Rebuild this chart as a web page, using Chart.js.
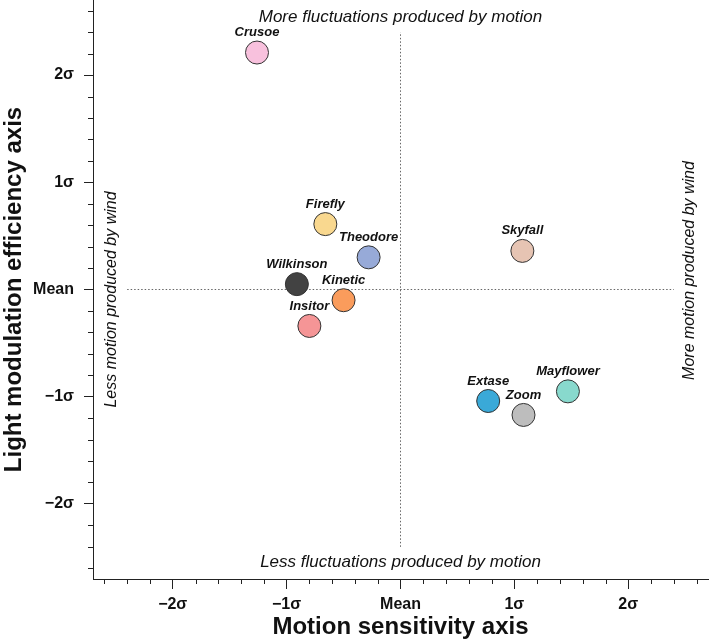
<!DOCTYPE html>
<html>
<head>
<meta charset="utf-8">
<script src="https://cdn.jsdelivr.net/npm/chart.js@4/dist/chart.umd.min.js"></script>
<style>
  html, body { margin: 0; padding: 0; background: #fff; }
  #chart { display: block; }
</style>
</head>
<body>
<canvas id="chart" width="709" height="642"></canvas>
<script>
// products placed on the two standardized axes (in sigma units)
var products = ['Crusoe', 'Firefly', 'Theodore', 'Wilkinson', 'Kinetic', 'Insitor', 'Skyfall', 'Extase', 'Zoom', 'Mayflower'];
var motionSensitivity = [-1.26, -0.66, -0.28, -0.91, -0.50, -0.80, 1.07, 0.77, 1.08, 1.47];
var lightModulation = [2.21, 0.61, 0.30, 0.05, -0.10, -0.34, 0.36, -1.04, -1.17, -0.95];
var pointColors = ['#f8c1dd', '#f9d88f', '#97aad8', '#424242', '#fa9c5c', '#f59596', '#e6c4b3', '#3aa9d8', '#bdbdbd', '#88d9cd'];

var meanLineSpan = [-2.4, 2.4];
var quadrantText = {
  top: 'More fluctuations produced by motion',
  bottom: 'Less fluctuations produced by motion',
  left: 'Less motion produced by wind',
  right: 'More motion produced by wind'
};

var FONT = '"Liberation Sans", Arial, Helvetica, sans-serif';

function sigmaLabel(v) {
  if (v === 0) return 'Mean';
  return (v < 0 ? '\u2212' + (-v) : v) + '\u03c3';
}

// ====minor ticks every 0.2 sigma====
var minorTicks = {
  id: 'minorTicks',
  afterDraw: function(chart) {
    var ctx = chart.ctx, a = chart.chartArea;
    var xs = chart.scales.x, ys = chart.scales.y;
    ctx.save();
    ctx.strokeStyle = '#222';
    ctx.lineWidth = 1;
    ctx.beginPath();
    for (var i = -13; i <= 13; i++) {
      if (i % 5 === 0) continue;
      var px = Math.round(xs.getPixelForValue(i / 5)) + 0.5;
      ctx.moveTo(px, a.bottom);
      ctx.lineTo(px, a.bottom + 5);
      var py = Math.round(ys.getPixelForValue(i / 5)) + 0.5;
      ctx.moveTo(a.left, py);
      ctx.lineTo(a.left - 5, py);
    }
    ctx.stroke();
    ctx.restore();
  }
};

// ====names above each circle + quadrant captions====
var annotations = {
  id: 'annotations',
  afterDatasetsDraw: function(chart) {
    var ctx = chart.ctx, a = chart.chartArea;
    var xs = chart.scales.x, ys = chart.scales.y;
    ctx.save();
    ctx.fillStyle = '#111';
    ctx.textAlign = 'center';
    ctx.textBaseline = 'middle';

    ctx.font = 'italic bold 13px ' + FONT;
    chart.getDatasetMeta(0).data.forEach(function(el, i) {
      ctx.fillText(products[i], el.x, el.y - 20);
    });

    ctx.font = 'italic 17px ' + FONT;
    var cx = xs.getPixelForValue(0), cy = ys.getPixelForValue(0);
    ctx.fillText(quadrantText.top, cx, a.top + 17);
    ctx.fillText(quadrantText.bottom, cx, a.bottom - 17);

    ctx.font = 'italic 16px ' + FONT;
    ctx.save();
    ctx.translate(a.left + 19, cy + 10);
    ctx.rotate(-Math.PI / 2);
    ctx.fillText(quadrantText.left, 0, 0);
    ctx.restore();

    ctx.translate(a.right - 18, cy - 19);
    ctx.rotate(-Math.PI / 2);
    ctx.fillText(quadrantText.right, 0, 0);
    ctx.restore();
  }
};

var axisCommon = {
  type: 'linear',
  grid: { drawOnChartArea: false, drawTicks: true, tickLength: 10, tickColor: '#222', tickWidth: 1 },
  border: { display: true, color: '#222', width: 1 },
  ticks: {
    stepSize: 1,
    includeBounds: false,
    color: '#111',
    font: { family: FONT, size: 16, weight: 'bold' },
    callback: function(v) { return Number.isInteger(v) ? sigmaLabel(v) : ''; }
  }
};

var ctx = document.getElementById('chart').getContext('2d');

var mapChart = new Chart(ctx, {
  type: 'scatter',
  data: {
    datasets: [
      {
        label: 'products',
        data: products.map(function(p, i) { return { x: motionSensitivity[i], y: lightModulation[i] }; }),
        backgroundColor: pointColors,
        borderColor: '#333',
        borderWidth: 1,
        pointRadius: 11.5,
        pointHoverRadius: 11.5
      },
      {
        type: 'line',
        label: 'mean x',
        data: meanLineSpan.map(function(v) { return { x: v, y: 0 }; }),
        borderColor: '#666',
        borderWidth: 1,
        borderDash: [1.5, 2],
        pointRadius: 0,
        showLine: true
      },
      {
        type: 'line',
        label: 'mean y',
        data: meanLineSpan.map(function(v) { return { x: 0, y: v }; }),
        borderColor: '#666',
        borderWidth: 1,
        borderDash: [1.5, 2],
        pointRadius: 0,
        showLine: true
      }
    ]
  },
  options: {
    responsive: false,
    animation: false,
    layout: { autoPadding: false, padding: { left: 0, right: 1, top: 0, bottom: 0 } },
    plugins: { legend: { display: false }, tooltip: { enabled: false } },
    scales: {
      x: Object.assign({}, axisCommon, {
        position: 'bottom',
        min: -2.7,
        max: 2.7,
        ticks: Object.assign({}, axisCommon.ticks, { padding: 6, maxRotation: 0 }),
        title: { display: true, text: 'Motion sensitivity axis', color: '#111',
                 font: { family: FONT, size: 24, weight: 'bold' }, padding: { top: 0, bottom: 0 } },
        afterFit: function(s) { s.height = 63; s.paddingLeft = 0; s.paddingRight = 0; }
      }),
      y: Object.assign({}, axisCommon, {
        position: 'left',
        min: -2.7,
        max: 2.7,
        grid: Object.assign({}, axisCommon.grid, { tickLength: 9 }),
        ticks: Object.assign({}, axisCommon.ticks, { padding: 10 }),
        title: { display: true, text: 'Light modulation efficiency axis', color: '#111',
                 font: { family: FONT, size: 24, weight: 'bold' }, padding: { top: 0, bottom: 0 } },
        afterFit: function(s) { s.width = 93; s.paddingTop = 0; s.paddingBottom = 0; }
      })
    }
  },
  plugins: [minorTicks, annotations]
});
</script>
</body>
</html>
